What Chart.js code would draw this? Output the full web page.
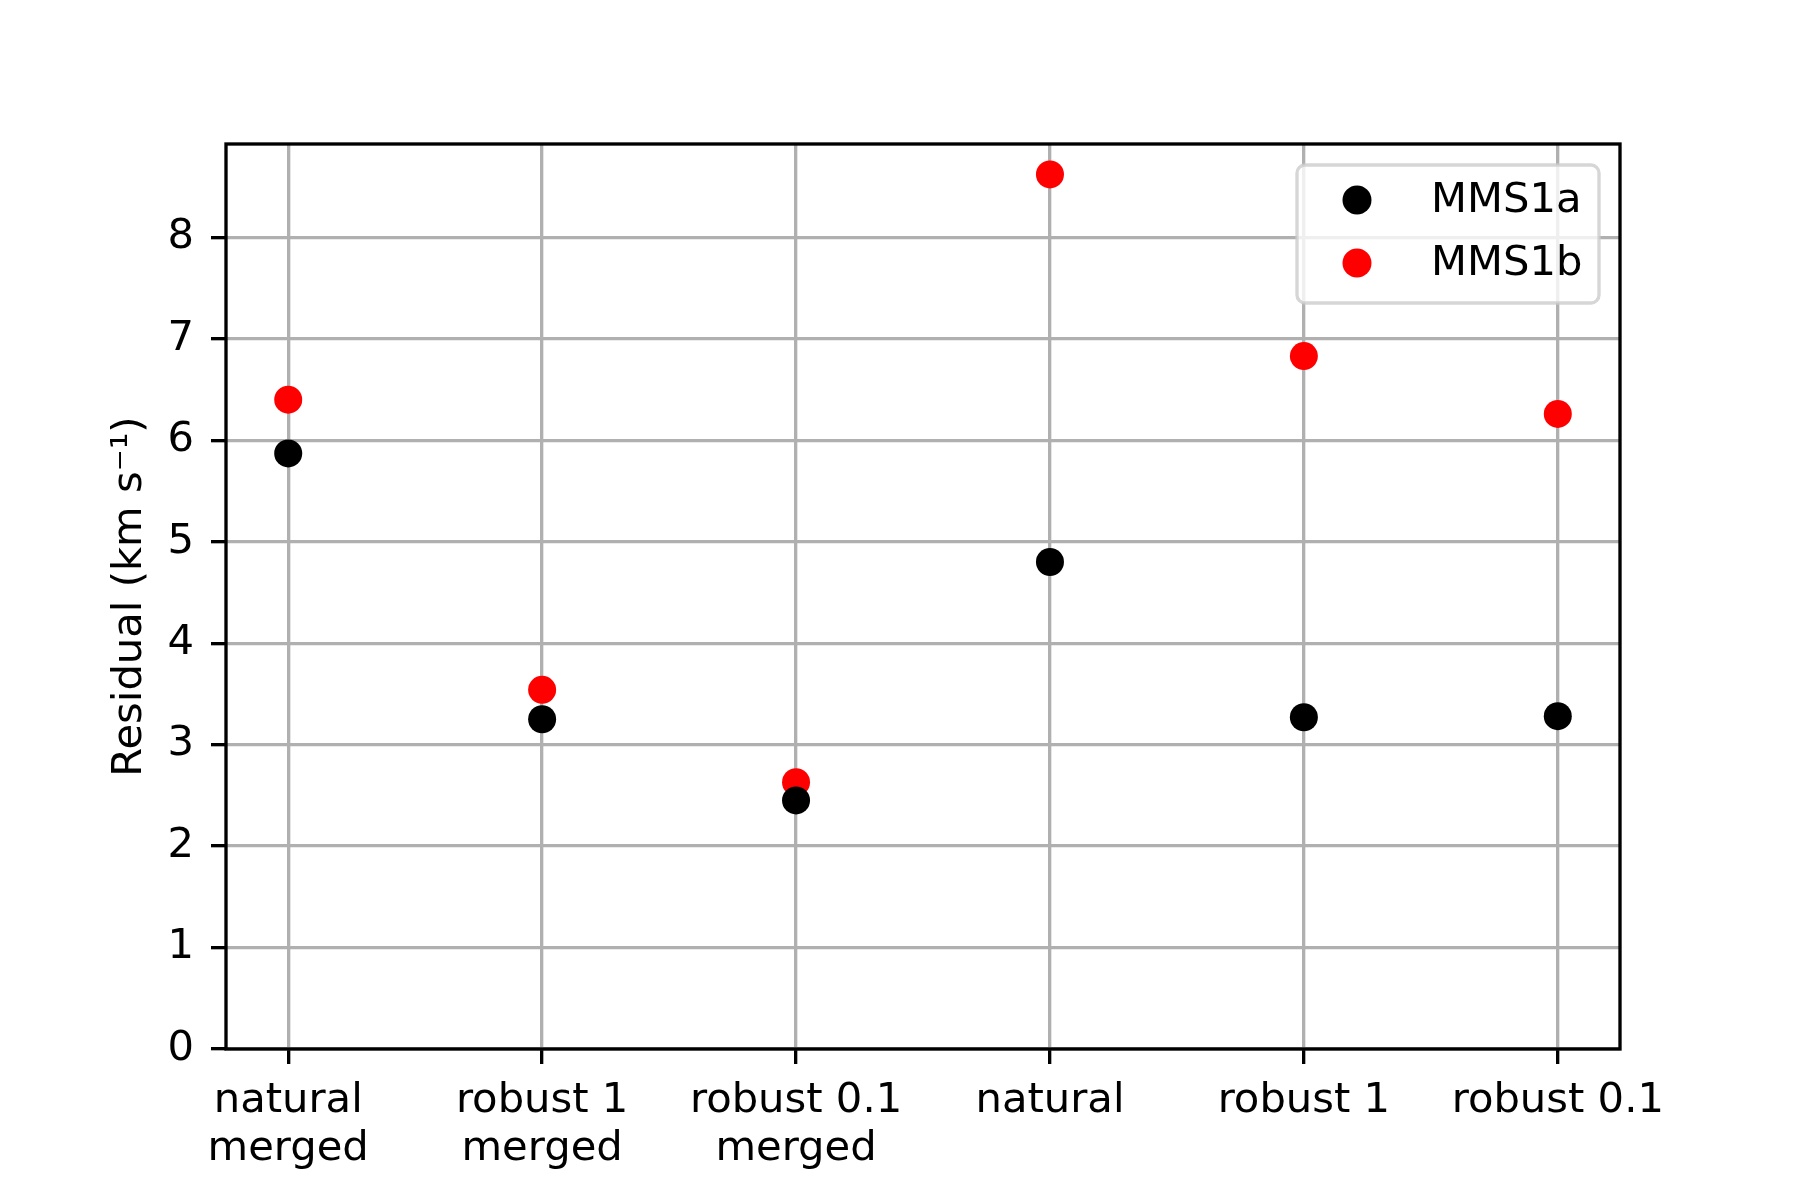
<!DOCTYPE html>
<html>
<head>
<meta charset="utf-8">
<script src="https://cdn.jsdelivr.net/npm/chart.js@4/dist/chart.umd.min.js"></script>
<style>
  html, body { margin: 0; padding: 0; background: #fff; }
  #wrap { width: 1800px; height: 1200px; }
</style>
</head>
<body>
<div id="wrap"><canvas id="c" width="1800" height="1200"></canvas></div>
<script>
// data
const categories = [['natural', 'merged'], ['robust 1', 'merged'], ['robust 0.1', 'merged'], 'natural', 'robust 1', 'robust 0.1'];
const mms1a = [5.87, 3.25, 2.45, 4.80, 3.27, 3.28];
const mms1b = [6.40, 3.54, 2.63, 8.62, 6.83, 6.26];
const yTicks = [0, 1, 2, 3, 4, 5, 6, 7, 8];

const FONT = 'DejaVu Sans';
const FS = 41.7;
const LW = 3.33;

function toPoints(vals) {
    return vals.map((v, i) => ({ x: i, y: v }));
}

// frame around the plot area
const framePlugin = {
    id: 'frame',
    afterDatasetsDraw(chart) {
        const a = chart.chartArea;
        const ctx = chart.ctx;
        ctx.save();
        ctx.strokeStyle = '#000';
        ctx.lineWidth = LW;
        ctx.strokeRect(a.left, a.top, a.right - a.left, a.bottom - a.top);
        ctx.restore();
    },
};

// matplotlib-like legend box, upper right
const legendPlugin = {
    id: 'mplLegend',
    afterDraw(chart) {
        const ctx = chart.ctx;
        const a = chart.chartArea;
        const x0 = a.right - 21 - 302, y0 = a.top + 21;
        const w = 302, h = 138;
        ctx.save();
        ctx.beginPath();
        ctx.roundRect(x0, y0, w, h, 8);
        ctx.fillStyle = 'rgba(255,255,255,0.8)';
        ctx.fill();
        ctx.strokeStyle = 'rgba(204,204,204,0.8)';
        ctx.lineWidth = LW;
        ctx.stroke();
        ctx.font = FS + 'px "' + FONT + '"';
        ctx.textBaseline = 'middle';
        chart.data.datasets.forEach((ds, i) => {
            const cy = y0 + 35 + i * 63;
            ctx.beginPath();
            ctx.arc(x0 + 60, cy, 14.5, 0, Math.PI * 2);
            ctx.fillStyle = ds.backgroundColor;
            ctx.fill();
            ctx.fillStyle = '#000';
            ctx.fillText(ds.label, x0 + 134, cy + 1);
        });
        ctx.restore();
    },
};

new Chart(document.getElementById('c'), {
    type: 'scatter',
    data: {
        datasets: [
            { label: 'MMS1a', data: toPoints(mms1a), backgroundColor: '#000000', borderColor: '#000000', pointRadius: 14, pointHoverRadius: 14, borderWidth: 0 },
            { label: 'MMS1b', data: toPoints(mms1b), backgroundColor: '#ff0000', borderColor: '#ff0000', pointRadius: 14, pointHoverRadius: 14, borderWidth: 0 },
        ],
    },
    options: {
        responsive: false,
        animation: false,
        devicePixelRatio: 1,
        layout: { padding: { left: 0, top: 144, right: 180, bottom: 0 } },
        plugins: {
            legend: { display: false },
            tooltip: { enabled: false },
        },
        scales: {
            x: {
                type: 'linear',
                min: -0.245,
                max: 5.245,
                afterFit(s) { s.height = 151; },
                afterBuildTicks(s) { s.ticks = categories.map((c, i) => ({ value: i })); },
                ticks: {
                    color: '#000',
                    font: { family: FONT, size: FS, lineHeight: 1.13 },
                    padding: 14,
                    maxRotation: 0,
                    autoSkip: false,
                    callback: (v) => categories[v],
                },
                grid: { color: '#b0b0b0', lineWidth: LW, tickColor: '#000', tickWidth: LW, tickLength: 15 },
                border: { display: false },
            },
            y: {
                min: 0,
                max: 8.92,
                afterFit(s) { s.width = 226; },
                afterBuildTicks(s) { s.ticks = yTicks.map((v) => ({ value: v })); },
                ticks: {
                    color: '#000',
                    font: { family: FONT, size: FS },
                    padding: 17,
                },
                grid: { color: '#b0b0b0', lineWidth: LW, tickColor: '#000', tickWidth: LW, tickLength: 15 },
                border: { display: false },
                title: {
                    display: true,
                    text: 'Residual (km s\u207B\u00B9)',
                    color: '#000',
                    font: { family: FONT, size: FS },
                    padding: { top: 105, bottom: 0 },
                },
            },
        },
    },
    plugins: [framePlugin, legendPlugin],
});
</script>
</body>
</html>
